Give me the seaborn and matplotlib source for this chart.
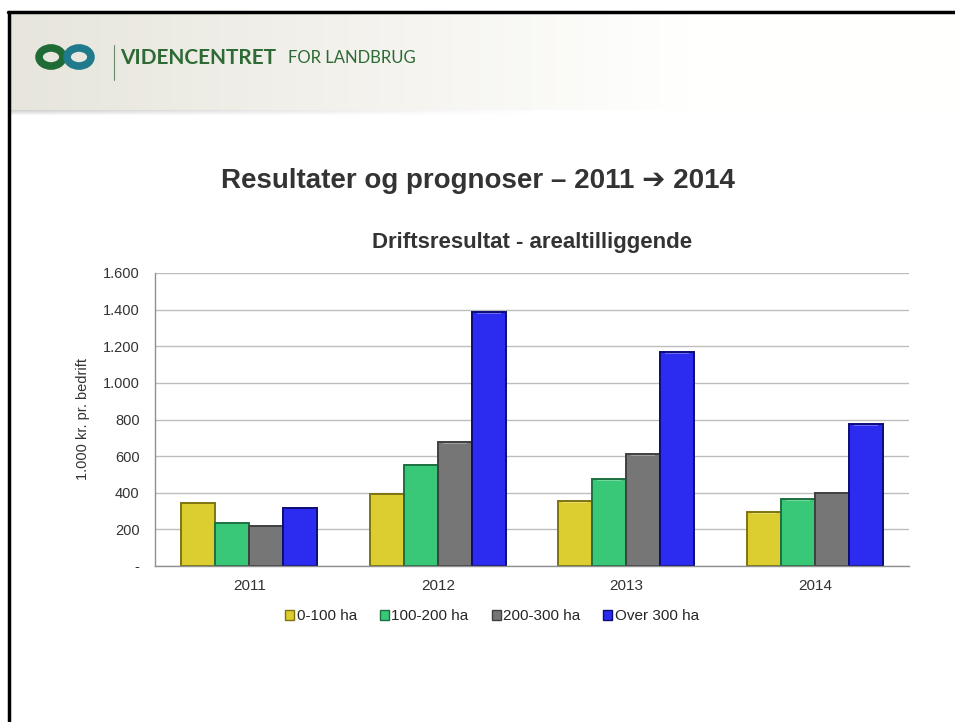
import numpy as np
import pandas as pd
import matplotlib
matplotlib.use("Agg")
import matplotlib.pyplot as plt
import seaborn as sns
from matplotlib.patches import Circle, Rectangle
from matplotlib.lines import Line2D

# ---------------------------
# Data
# ---------------------------

years = ["2011", "2012", "2013", "2014"]
sizes = ["0-100 ha", "100-200 ha", "200-300 ha", "Over 300 ha"]

v_0_100 = [345, 394, 353, 293]
v_100_200 = [236, 553, 475, 365]
v_200_300 = [220, 676, 609, 400]
v_over_300 = [318, 1385, 1166, 775]

yticks = [0, 200, 400, 600, 800, 1000, 1200, 1400, 1600]

colors = ["#dccd30", "#38c878", "#767676", "#2c2cf0"]
edges = ["#7d7410", "#1c7040", "#404040", "#0c0c78"]

df = pd.DataFrame({
    "year": years * 4,
    "size": [s for s in sizes for _ in years],
    "value": v_0_100 + v_100_200 + v_200_300 + v_over_300,
})

# ---------------------------
# Figure
# ---------------------------

sns.set_style("white")
plt.rcParams["font.family"] = ["Liberation Sans", "DejaVu Sans"]

fig = plt.figure(figsize=(9.55, 7.22), dpi=100)
W, H = 955, 722

def fx(px):
    return px / W

def fy(py):
    return 1 - py / H

# header band with gradient
hdr = fig.add_axes([fx(9), fy(110), 1 - fx(9), (110 - 12) / H])
grad = np.linspace(0, 1, 256)[None, :]
c0 = np.array([0.905, 0.898, 0.862])
c1 = np.array([1.0, 1.0, 0.995])
img = c0 + (c1 - c0) * np.clip(grad * 1.4, 0, 1)[..., None]
hdr.imshow(img, aspect="auto", extent=[0, 1, 0, 1])
hdr.axis("off")

# soft shadow under header
sh = fig.add_axes([fx(9), fy(116), 1 - fx(9), 6 / H])
shade = np.linspace(0.82, 1.0, 6)[:, None] * np.ones((1, 256))
fade = np.clip(np.linspace(0, 1.8, 256), 0, 1)[None, :]
shade = shade + (1 - shade) * fade
sh.imshow(np.dstack([shade] * 3), aspect="auto", extent=[0, 1, 0, 1])
sh.axis("off")

# slide border (top / left)
fig.add_artist(Line2D([fx(8), 1], [fy(12), fy(12)], color="black", lw=2.5))
fig.add_artist(Line2D([fx(8.5), fx(8.5)], [0, fy(12)], color="black", lw=2.5))

# logo
fig.add_artist(Circle((fx(51), fy(57)), 0.0125, transform=fig.transFigure,
                      facecolor="none", edgecolor="#1f6b35", lw=5.5))
fig.add_artist(Circle((fx(79), fy(57)), 0.0125, transform=fig.transFigure,
                      facecolor="none", edgecolor="#1f7a8c", lw=5.5))
fig.add_artist(Line2D([fx(114), fx(114)], [fy(80), fy(45)], color="#6a8a6a", lw=0.8))
fig.text(fx(120), fy(58), "VIDENCENTRET", fontsize=15, fontweight="bold",
         family="Lato", color="#2d6a35", va="center", ha="left")
fig.text(fx(288), fy(58), "FOR LANDBRUG", fontsize=12, family="Lato",
         color="#2d6a35", va="center", ha="left")

# slide title
fig.text(0.5, fy(181), "Resultater og prognoser – 2011 ➔ 2014", fontsize=20,
         fontweight="bold", color="#333333", ha="center", va="center")

# ---------------------------
# Chart
# ---------------------------

ax = fig.add_axes([fx(155), fy(566), fx(909) - fx(155), (566 - 273) / H])

sns.barplot(data=df, x="year", y="value", hue="size", hue_order=sizes,
            palette=colors, saturation=1, width=0.72, ax=ax, legend=False)

for i, cont in enumerate(ax.containers):
    for p in cont:
        p.set_edgecolor(edges[i])
        p.set_linewidth(1.4)
        # bevel highlight along the top
        x0, w, h = p.get_x(), p.get_width(), p.get_height()
        ax.add_patch(Rectangle((x0 + w * 0.15, h - 9), w * 0.7, 4,
                               facecolor="white", alpha=0.3, lw=0, zorder=3))

ax.set_ylim(0, 1600)
ax.set_xlim(-0.5, 3.5)
ax.set_yticks(yticks)
ax.set_yticklabels(["-" if v == 0 else f"{v:,}".replace(",", ".") for v in yticks])
ax.yaxis.grid(True, color="#bdbdbd", lw=1)
ax.set_axisbelow(True)

ax.set_xticks([0, 1, 2, 3])
ax.set_xticklabels(years)
ax.set_xticks([-0.5, 0.5, 1.5, 2.5, 3.5], minor=True)
ax.tick_params(axis="x", which="major", length=0, pad=9, labelsize=11, labelcolor="#333333")
ax.tick_params(axis="x", which="minor", length=5, color="#909090", direction="out")
ax.tick_params(axis="y", length=5, color="#909090", direction="out", labelsize=10.5,
               labelcolor="#333333", pad=6)

for s in ["top", "right"]:
    ax.spines[s].set_visible(False)
for s in ["left", "bottom"]:
    ax.spines[s].set_color("#909090")
    ax.spines[s].set_linewidth(1)

ax.set_xlabel("")
ax.set_ylabel("1.000 kr. pr. bedrift", fontsize=10.5, color="#333333", labelpad=9)

ax.set_title("Driftsresultat - arealtilliggende", fontsize=16, fontweight="bold",
             color="#333333", pad=18)

handles = [Rectangle((0, 0), 1, 1, facecolor=c, edgecolor=e, lw=1)
           for c, e in zip(colors, edges)]
ax.legend(handles, sizes, loc="upper center", bbox_to_anchor=(0.447, -0.1),
          ncol=4, frameon=False, fontsize=11, handlelength=0.6, handleheight=0.6,
          handletextpad=0.15, columnspacing=1.5)

fig.savefig("out.png", dpi=100, facecolor="white")
